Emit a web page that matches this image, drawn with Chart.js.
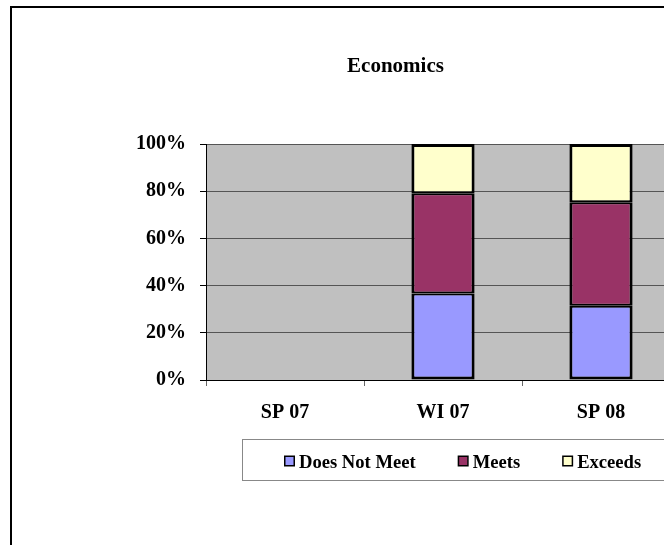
<!DOCTYPE html>
<html><head><meta charset="utf-8">
<script src="https://cdn.jsdelivr.net/npm/chart.js@4.4.1/dist/chart.umd.min.js"></script>
<style>
html,body{margin:0;padding:0;overflow:hidden;background:#fff;width:664px;height:545px}
#wrap{position:absolute;left:0;top:0;width:720px;height:545px}
</style></head><body>
<div id="wrap"><canvas id="c" width="720" height="545"></canvas></div>
<script>
const categories = ['SP 07', 'WI 07', 'SP 08'];
const doesNotMeet = [null, 36.7, 31.5];
const meets = [null, 42.4, 43.8];
const exceeds = [null, 20.9, 24.7];
const yTicks = [0, 20, 40, 60, 80, 100];
const titleText = 'Economics';
const seriesNames = ['Does Not Meet', 'Meets', 'Exceeds'];
const seriesColors = ['#9999FF', '#993366', '#FFFFCC'];

const FAM = '"Liberation Serif", "Times New Roman", serif';

const frame = {
  id: 'frame',
  beforeDraw(chart) {
    const { ctx, chartArea: a } = chart;
    ctx.save();
    ctx.fillStyle = '#fff';
    ctx.fillRect(0, 0, chart.width, chart.height);
    ctx.fillStyle = '#000';
    ctx.fillRect(10, 6, 2, chart.height);
    ctx.fillRect(10, 6, chart.width, 2);
    ctx.fillStyle = '#C0C0C0';
    ctx.fillRect(a.left, a.top, a.right - a.left, a.bottom - a.top);
    ctx.restore();
  },
  afterDraw(chart) {
    const ctx = chart.ctx;
    ctx.save();
    ctx.fillStyle = '#000';
    ctx.font = 'bold 21px ' + FAM;
    ctx.textAlign = 'center';
    ctx.textBaseline = 'alphabetic';
    ctx.fillText(titleText, 395.5, 72);
    // legend box
    ctx.strokeStyle = '#888';
    ctx.lineWidth = 1;
    ctx.strokeRect(242.5, 439.5, 600, 41);
    ctx.font = 'bold 18.6px ' + FAM;
    ctx.textAlign = 'left';
    let x = 284;
    chart.data.datasets.forEach(ds => {
      ctx.fillStyle = ds.backgroundColor;
      ctx.fillRect(x + 1, 456.5, 9, 9);
      ctx.strokeStyle = '#000';
      ctx.lineWidth = 1.5;
      ctx.strokeRect(x + 0.75, 456.25, 9.5, 9.5);
      ctx.fillStyle = '#000';
      ctx.fillText(ds.label, x + 15, 467.5);
      x += 15 + ctx.measureText(ds.label).width + 42;
    });
    ctx.restore();
  }
};

const series = [doesNotMeet, meets, exceeds];
const last = series.length - 1;
new Chart(document.getElementById('c'), {
  type: 'bar',
  data: {
    labels: categories,
    datasets: series.map((d, i) => ({
      label: seriesNames[i],
      data: d,
      backgroundColor: seriesColors[i],
      borderColor: '#000',
      borderWidth: { left: 3, right: 3, top: i === last ? 3 : 2, bottom: i === 0 ? 3 : 2 },
      borderSkipped: false,
      inflateAmount: 0,
      barPercentage: 0.4,
      categoryPercentage: 1.0
    }))
  },
  options: {
    responsive: false,
    animation: false,
    devicePixelRatio: 1,
    layout: { padding: { top: 144, left: 0, right: 40, bottom: 0 } },
    plugins: { legend: { display: false }, title: { display: false }, tooltip: { enabled: false } },
    scales: {
      x: {
        stacked: true,
        offset: true,
        grid: { display: true, drawOnChartArea: false, drawTicks: true, tickLength: 6, tickColor: '#666', offset: true },
        border: { display: true, color: '#000', width: 1 },
        ticks: { color: '#000', font: { family: FAM, size: 20, weight: 'bold' }, padding: 15, maxRotation: 0 },
        afterFit(s) { s.height = 165; }
      },
      y: {
        stacked: true,
        min: 0, max: 100,
        afterBuildTicks(s) { s.ticks = yTicks.map(v => ({ value: v })); },
        grid: { color: '#555', tickLength: 6, tickColor: '#000', drawTicks: true },
        border: { display: true, color: '#000', width: 1 },
        ticks: { padding: 14, color: '#000', font: { family: FAM, size: 20, weight: 'bold' }, callback: v => v + '%' },
        afterFit(s) { s.width = 206; }
      }
    }
  },
  plugins: [frame]
});
</script>
</body></html>
